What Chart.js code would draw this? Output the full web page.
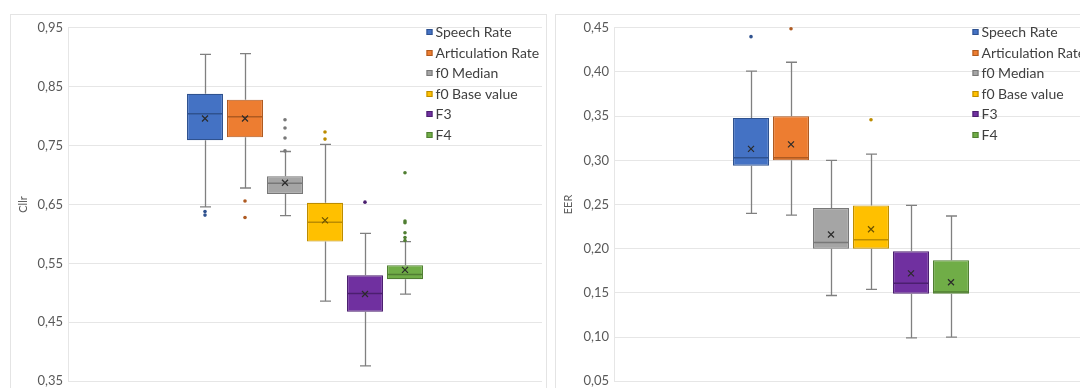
<!DOCTYPE html>
<html>
<head>
<meta charset="utf-8">
<script src="https://cdn.jsdelivr.net/npm/chart.js@4"></script>
<style>
  html, body { margin: 0; padding: 0; background: #fff; width: 1080px; height: 388px; overflow: hidden; }
  .panel { position: absolute; top: 14px; width: 535px; height: 400px; border: 1px solid #E4E4E4; background: #fff; }
  #p1 { left: 10px; }
  #p2 { left: 555px; }
  canvas { display: block; }
</style>
</head>
<body>
<div class="panel" id="p1"><canvas id="cllrChart" width="535" height="379"></canvas></div>
<div class="panel" id="p2"><canvas id="eerChart" width="535" height="379"></canvas></div>
<script>
// Feature sets compared in both plots
const seriesNames = ['Speech Rate', 'Articulation Rate', 'f0 Median', 'f0 Base value', 'F3', 'F4'];

// Cllr distribution per feature
const cllrMin     = [0.646, 0.678, 0.631, 0.486, 0.376, 0.498];
const cllrQ1      = [0.759, 0.764, 0.668, 0.587, 0.468, 0.523];
const cllrMedian  = [0.804, 0.799, 0.686, 0.620, 0.499, 0.531];
const cllrQ3      = [0.838, 0.828, 0.698, 0.653, 0.530, 0.547];
const cllrMax     = [0.905, 0.906, 0.740, 0.752, 0.601, 0.587];
const cllrMean    = [0.796, 0.796, 0.687, 0.623, 0.498, 0.539];
const cllrOutliers = [
  [0.638, 0.632],
  [0.656, 0.628],
  [0.794, 0.780, 0.763, 0.741],
  [0.773, 0.761],
  [0.654],
  [0.704, 0.622, 0.619, 0.602, 0.594, 0.589]
];

// EER distribution per feature
const eerMin     = [0.240, 0.238, 0.147, 0.154, 0.099, 0.100];
const eerQ1      = [0.294, 0.300, 0.200, 0.200, 0.149, 0.149];
const eerMedian  = [0.303, 0.303, 0.207, 0.210, 0.161, 0.151];
const eerQ3      = [0.348, 0.350, 0.246, 0.249, 0.197, 0.187];
const eerMax     = [0.401, 0.411, 0.300, 0.307, 0.249, 0.237];
const eerMean    = [0.313, 0.318, 0.216, 0.222, 0.172, 0.162];
const eerOutliers = [[0.440], [0.449], [], [0.346], [], []];

// Axis ranges
const cllrAxis = { min: 0.35, max: 0.95, step: 0.1 };
const eerAxis  = { min: 0.05, max: 0.45, step: 0.05 };

// Series styling
const fillColors   = ['#4472C4', '#ED7D31', '#A5A5A5', '#FFC000', '#7030A0', '#70AD47'];
const borderColors = ['#2F528F', '#AE5A21', '#787878', '#BC8C00', '#4B1F6F', '#507E32'];

const FONT = 'Lato, "Open Sans", sans-serif';

// Whiskers, medians, means and outliers drawn on top of the Q1–Q3 bars
const boxDetails = {
  id: 'boxDetails',
  afterDatasetsDraw(chart) {
    const ctx = chart.ctx;
    const y = chart.scales.y;
    chart.data.datasets.forEach((ds, i) => {
      const bar = chart.getDatasetMeta(i).data[0];
      if (!bar) return;
      const s = ds.stats;
      const cx = Math.round(bar.x) + 0.5;
      const half = bar.width / 2;
      const yMax = y.getPixelForValue(s.max), yQ3 = y.getPixelForValue(s.q3);
      const yQ1 = y.getPixelForValue(s.q1), yMin = y.getPixelForValue(s.min);
      ctx.save();
      // whiskers + caps
      ctx.strokeStyle = '#808080';
      ctx.lineWidth = 1.3;
      ctx.beginPath();
      ctx.moveTo(cx, yMax); ctx.lineTo(cx, yQ3);
      ctx.moveTo(cx, yQ1); ctx.lineTo(cx, yMin);
      ctx.moveTo(cx - 5.5, yMax); ctx.lineTo(cx + 5.5, yMax);
      ctx.moveTo(cx - 5.5, yMin); ctx.lineTo(cx + 5.5, yMin);
      ctx.stroke();
      // median
      const yMed = y.getPixelForValue(s.median);
      ctx.strokeStyle = ds.borderColor;
      ctx.lineWidth = 1.5;
      ctx.beginPath();
      ctx.moveTo(bar.x - half, yMed); ctx.lineTo(bar.x + half, yMed);
      ctx.stroke();
      // mean marker
      const yMean = y.getPixelForValue(s.mean);
      ctx.lineWidth = 1.2;
      ctx.strokeStyle = ds.meanColor;
      ctx.beginPath();
      ctx.moveTo(bar.x - 3, yMean - 3); ctx.lineTo(bar.x + 3, yMean + 3);
      ctx.moveTo(bar.x - 3, yMean + 3); ctx.lineTo(bar.x + 3, yMean - 3);
      ctx.stroke();
      // outliers
      ctx.fillStyle = ds.outlierColor;
      s.outliers.forEach(v => {
        ctx.beginPath();
        ctx.arc(bar.x, y.getPixelForValue(v), 1.8, 0, Math.PI * 2);
        ctx.fill();
      });
      ctx.restore();
    });
  }
};

// Legend list at the top right of the plot area
const sideLegend = {
  id: 'sideLegend',
  afterDraw(chart, args, opts) {
    const ctx = chart.ctx;
    const a = chart.chartArea;
    const x0 = a.right - opts.offsetRight;
    ctx.save();
    chart.data.datasets.forEach((ds, i) => {
      const yc = a.top + opts.firstRow + i * opts.rowStep;
      ctx.fillStyle = ds.backgroundColor;
      ctx.fillRect(x0, Math.round(yc) - 3, 6, 6);
      ctx.strokeStyle = ds.borderColor;
      ctx.lineWidth = 1;
      ctx.strokeRect(x0 + 0.5, Math.round(yc) - 2.5, 5, 5);
      ctx.fillStyle = '#404040';
      ctx.font = '14px ' + FONT;
      ctx.textBaseline = 'middle';
      ctx.textAlign = 'left';
      ctx.fillText(ds.label, x0 + 9, yc + 0.5);
    });
    ctx.restore();
  }
};

function makeBoxChart(canvasId, stats, axis, title, yWidth, padRight) {
  const datasets = seriesNames.map((name, i) => ({
    label: name,
    data: [[stats.q1[i], stats.q3[i]]],
    backgroundColor: fillColors[i],
    borderColor: borderColors[i],
    borderWidth: 1.2,
    borderSkipped: false,
    meanColor: i === 3 ? '#6B5200' : '#2B2B2B',
    outlierColor: borderColors[i],
    stats: {
      min: stats.min[i], q1: stats.q1[i], median: stats.median[i],
      q3: stats.q3[i], max: stats.max[i], mean: stats.mean[i],
      outliers: stats.outliers[i]
    }
  }));

  return new Chart(document.getElementById(canvasId), {
    type: 'bar',
    data: { labels: [''], datasets },
    plugins: [boxDetails, sideLegend],
    options: {
      responsive: false,
      animation: false,
      devicePixelRatio: 1,
      categoryPercentage: 0.5063,
      barPercentage: 0.9,
      layout: { padding: { top: 12.7, bottom: 9.3, left: 0, right: padRight } },
      plugins: {
        legend: { display: false },
        tooltip: { enabled: false },
        sideLegend: { offsetRight: 115.5, firstRow: 4.6, rowStep: 20.5 }
      },
      scales: {
        x: { display: false },
        y: {
          min: axis.min,
          max: axis.max,
          afterFit(scale) { scale.width = yWidth; },
          ticks: {
            stepSize: axis.step,
            padding: 5,
            color: '#595959',
            font: { family: FONT, size: 13 },
            callback: v => v.toFixed(2).replace('.', ',')
          },
          grid: { color: '#E6E6E6', lineWidth: 1, drawTicks: false },
          border: { display: true, color: '#E6E6E6' },
          title: {
            display: true,
            text: title,
            color: '#595959',
            font: { family: FONT, size: 11 },
            padding: { top: 6, bottom: 0 }
          }
        }
      }
    }
  });
}

makeBoxChart('cllrChart', {
  min: cllrMin, q1: cllrQ1, median: cllrMedian, q3: cllrQ3,
  max: cllrMax, mean: cllrMean, outliers: cllrOutliers
}, cllrAxis, 'Cllr', 57, 4);

makeBoxChart('eerChart', {
  min: eerMin, q1: eerQ1, median: eerMedian, q3: eerQ3,
  max: eerMax, mean: eerMean, outliers: eerOutliers
}, eerAxis, 'EER', 58, 3);
</script>
</body>
</html>
